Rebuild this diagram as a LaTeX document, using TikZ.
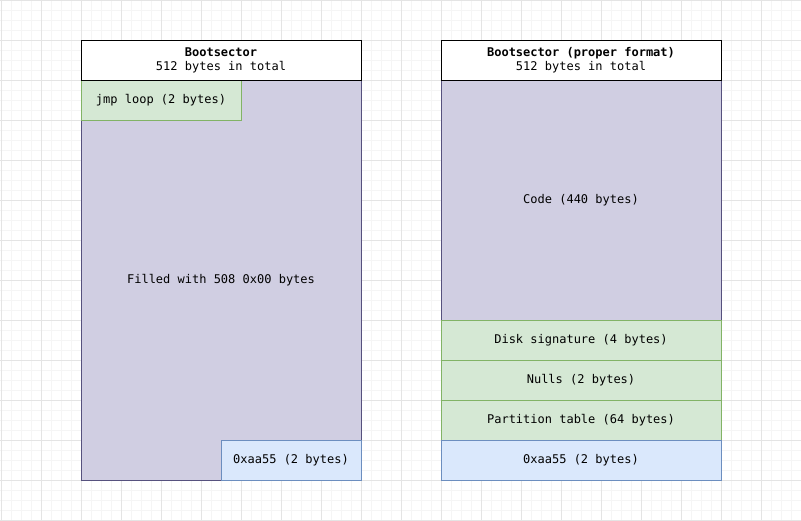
\documentclass[tikz,border=0pt]{standalone}
\usepackage{fontspec}
\setmonofont{DejaVu Sans Mono}
\usetikzlibrary{positioning}
\definecolor{gridminor}{HTML}{F5F5F5}
\definecolor{gridmajor}{HTML}{E4E4E4}
\definecolor{codefill}{HTML}{D0CEE2}
\definecolor{codeline}{HTML}{56517E}
\definecolor{partfill}{HTML}{D5E8D4}
\definecolor{partline}{HTML}{82B366}
\definecolor{sigfill}{HTML}{DAE8FC}
\definecolor{sigline}{HTML}{6C8EBF}

\begin{document}
\begin{tikzpicture}[x=0.75pt, y=-0.75pt]
  	\useasboundingbox (0,0) rectangle (801,521);
  	% background grid
  	\foreach \g in {1,11,...,801} \draw [gridminor, line width=0.75pt] (\g,0) -- (\g,521);
  	\foreach \g in {0,10,...,521} \draw [gridminor, line width=0.75pt] (0,\g) -- (801,\g);
  	\foreach \g in {1,41,...,801} \draw [gridmajor, line width=0.75pt] (\g,0) -- (\g,521);
  	\foreach \g in {0,40,...,521} \draw [gridmajor, line width=0.75pt] (0,\g) -- (801,\g);
  	\tikzstyle{every node}=[font=\ttfamily\fontsize{9}{10.5}\selectfont, rectangle, line width=0.75pt, inner sep=0pt, align=center, minimum width=210pt, minimum height=30pt]
  	\tikzstyle{titlebox}=[draw=black, fill=white]
  	\tikzstyle{codebox}=[draw=codeline, fill=codefill]
  	\tikzstyle{partbox}=[draw=partline, fill=partfill]
  	\tikzstyle{sigbox}=[draw=sigline, fill=sigfill]
  	% left: bootsector as written
  	\draw (221,280) node (boot_body) [codebox, minimum height=300pt]{Filled with 508 0x00 bytes};
  	\draw (161,100) node (boot_jmp) [partbox, minimum width=120pt]{jmp loop (2 bytes)};
  	\draw (291,460) node (boot_magic) [sigbox, minimum width=105pt]{0xaa55 (2 bytes)};
  	\draw (221,60) node (boot_title) [titlebox]{\textbf{Bootsector}\\512 bytes in total};
  	% right: bootsector in proper format
  	\draw (581,200) node (mbr_code) [codebox, minimum height=180pt]{Code (440 bytes)};
  	\draw (581,340) node (mbr_disk) [partbox]{Disk signature (4 bytes)};
  	\draw (581,380) node (mbr_nulls) [partbox]{Nulls (2 bytes)};
  	\draw (581,420) node (mbr_table) [partbox]{Partition table (64 bytes)};
  	\draw (581,460) node (mbr_magic) [sigbox]{0xaa55 (2 bytes)};
  	\draw (581,60) node (mbr_title) [titlebox]{\textbf{Bootsector (proper format)}\\512 bytes in total};
\end{tikzpicture}
\end{document}
